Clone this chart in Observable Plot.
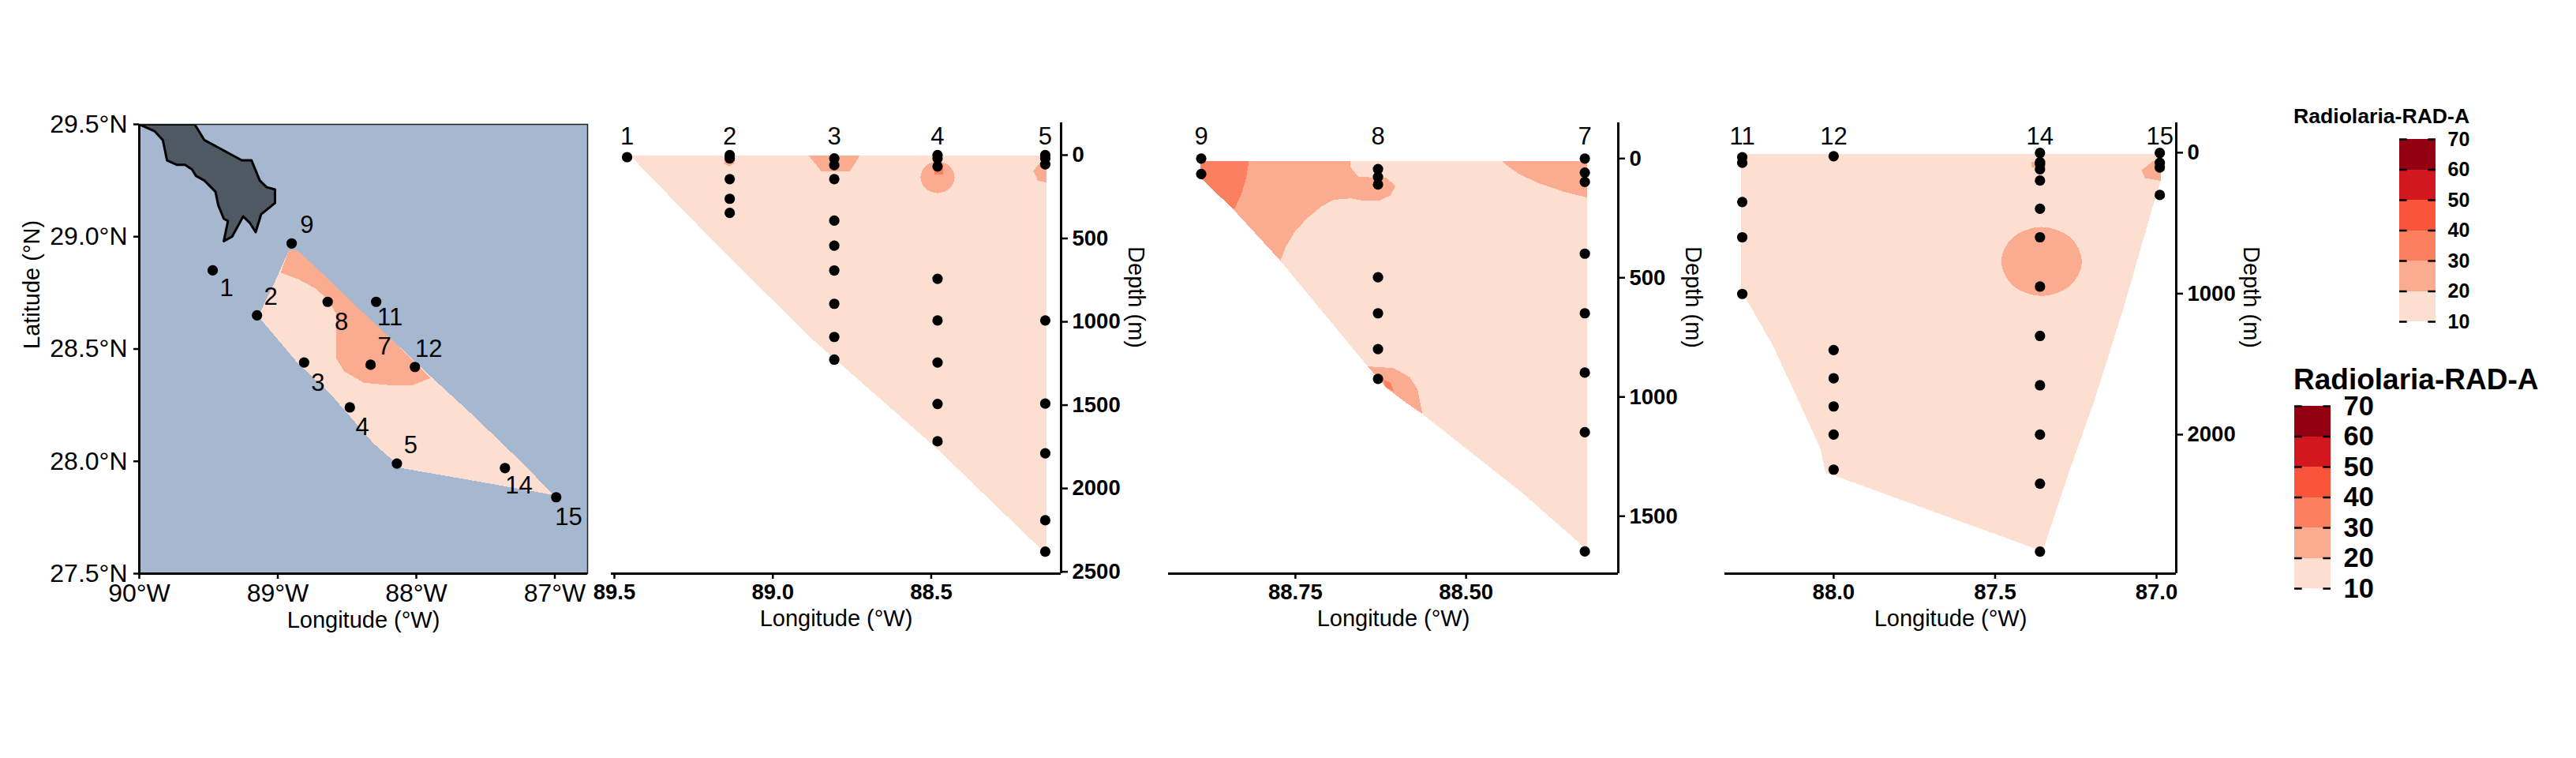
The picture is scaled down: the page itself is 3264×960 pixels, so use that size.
<!DOCTYPE html>
<html>
<head>
<meta charset="utf-8">
<script src="https://cdn.jsdelivr.net/npm/d3@7"></script>
<script src="https://cdn.jsdelivr.net/npm/@observablehq/plot@0.6"></script>
<style>
html,body{margin:0;padding:0;background:#fff;width:3264px;height:960px;overflow:hidden}
#page{position:relative;width:3264px;height:960px;font-family:"Liberation Sans",Arial,sans-serif}
#page svg{position:absolute;overflow:visible;background:transparent}
.ltitle{position:absolute;font-weight:bold;white-space:nowrap;color:#000}
</style>
</head>
<body>
<div id="page"></div>
<script>
// --- palette
const legendBreaks = [10,20,30,40,50,60,70];
const legendColors = ["#fcdfd0","#faab90","#fb8060","#f9553b","#d3171e","#930012"];
const legendTitle = "Radiolaria-RAD-A";
const pale=legendColors[0], salmon=legendColors[1], coral=legendColors[2];

// --- map panel
const stationNames = ["1","2","3","4","5","7","8","9","11","12","14","15"];
const stationLon = [-89.47,-89.15,-88.81,-88.48,-88.14,-88.33,-88.64,-88.90,-88.29,-88.01,-87.36,-86.99];
const stationLat = [28.85,28.65,28.44,28.24,27.99,28.43,28.71,28.97,28.71,28.42,27.97,27.84];
const labelLon = [-89.37,-89.05,-88.71,-88.39,-88.04,-88.23,-88.54,-88.79,-88.19,-87.91,-87.26,-86.90];
const labelLat = [28.77,28.73,28.35,28.15,28.07,28.51,28.62,29.05,28.64,28.50,27.89,27.75];
const landLon = [-90,-89.89,-89.83,-89.80,-89.73,-89.67,-89.62,-89.59,-89.53,-89.45,-89.43,-89.39,-89.36,-89.39,-89.33,-89.25,-89.20,-89.16,-89.12,-89.02,-89.02,-89.08,-89.13,-89.19,-89.26,-89.53,-89.60];
const landLat = [29.5,29.47,29.43,29.34,29.32,29.32,29.30,29.27,29.25,29.20,29.14,29.08,29.07,28.98,29.00,29.09,29.06,29.02,29.10,29.15,29.21,29.22,29.25,29.34,29.34,29.43,29.5];
const mapPaleLon = [-88.92,-88.86,-88.65,-88.45,-88.19,-87.90,-87.60,-87.23,-87.01,-87.46,-88.11,-88.18,-88.31,-88.62,-88.86,-89.12,-89.13,-89.02];
const mapPaleLat = [28.94,28.94,28.82,28.70,28.55,28.38,28.21,27.99,27.85,27.90,27.97,28.01,28.08,28.30,28.44,28.63,28.66,28.80];
const mapSalmonLon = [-88.92,-88.86,-88.65,-88.45,-88.19,-87.90,-88.02,-88.21,-88.38,-88.52,-88.58,-88.58,-88.64,-88.73,-88.85,-88.98];
const mapSalmonLat = [28.94,28.94,28.82,28.70,28.55,28.37,28.34,28.34,28.35,28.40,28.46,28.66,28.72,28.77,28.81,28.84];
const mapLonTicks = [-90,-89,-88,-87];
const mapLatTicks = [27.5,28,28.5,29,29.5];

// --- section 1 (stations 1-5)
const s1Names = ["1","2","3","4","5"];
const s1Lon = [89.46,89.136,88.806,88.48,88.14];
const s1Depths = [[12],[0,20,144,262,347],[20,60,144,393,543,692,892,1091,1227],[0,20,68,742,992,1244,1493,1717],[0,20,55,992,1491,1789,2191,2379]];
const s1OuterLon = [89.45,89.176,88.878,88.479,88.157,88.135,88.135];
const s1OuterDep = [4,539,1100,1766,2358,2369,4];
const s1aLon = [88.886,88.726,88.738,88.756,88.848,88.866];
const s1aDep = [4,4,42,95,95,53];
const s1bLon = [88.48,88.442,88.426,88.442,88.48,88.518,88.534,88.518];
const s1bDep = [38,66,133,200,228,200,133,66];
const s1cLon = [88.135,88.157,88.178,88.163,88.135];
const s1cDep = [42,47,95,154,165];
const s1dLon = [89.152,89.119,89.122,89.138,89.152];
const s1dDep = [4,4,53,68,53];
const s1eLon = [88.49,88.463,88.463,88.49];
const s1eDep = [57,57,116,116];

// --- section 2 (stations 9, 8, 7)
const s2Names = ["9","8","7"];
const s2Lon = [88.888,88.629,88.326];
const s2Depths = [[0,65],[44,77,109,498,649,799,924],[0,59,98,399,649,898,1148,1648]];
const s2OuterLon = [88.889,88.323,88.323,88.417,88.564,88.644,88.772,88.842,88.889];
const s2OuterDep = [9,9,1640,1404,1071,872,429,210,81];
const s2aLon = [88.889,88.669,88.669,88.658,88.617,88.603,88.611,88.628,88.65,88.669,88.694,88.711,88.733,88.75,88.764,88.772,88.842,88.889];
const s2aDep = [9,9,37,77,81,115,155,177,177,167,173,199,251,303,369,429,210,81];
const s2bLon = [88.889,88.818,88.822,88.829,88.839,88.842,88.889];
const s2bDep = [9,9,81,148,210,210,81];
const s2cLon = [88.644,88.606,88.583,88.571,88.564,88.583,88.617];
const s2cDep = [872,879,916,968,1071,1034,961];
const s2dLon = [88.622,88.611,88.606,88.617];
const s2dDep = [928,938,975,961];
const s2eLon = [88.447,88.323,88.323,88.356,88.394,88.422,88.442];
const s2eDep = [9,9,163,140,103,66,25];

// --- section 3 (stations 11, 12, 14, 15)
const s3Names = ["11","12","14","15"];
const s3Lon = [88.283,88.0,87.361,86.99];
const s3Depths = [[32,72,350,600,1002],[25,1400,1600,1800,2000,2248],[2,68,80,118,198,398,600,950,1300,1650,2000,2348,2830],[2,72,105,300]];
const s3OuterLon = [88.288,88.27,86.986,86.986,87.013,87.101,87.194,87.264,87.352,87.364,88.025,88.042,88.188,88.27,88.288];
const s3OuterDep = [35,12,12,192,392,1092,1768,2218,2818,2818,2268,2092,1368,1042,955];
const s3aLon = [87.356,87.268,87.231,87.268,87.356,87.444,87.481,87.444];
const s3aDep = [527,599,772,945,1017,945,772,599];
const s3bLon = [87.387,87.343,87.343,87.387];
const s3bDep = [68,55,105,105];
const s3cLon = [86.986,87.013,87.046,87.036,86.986];
const s3cDep = [55,62,125,180,200];

const FONT = '"Liberation Sans",Arial,sans-serif';
const page = document.getElementById("page");
const pts = (xs,ys)=>xs.map((x,i)=>({x,y:ys[i]}));
const poly = (xs,ys,fill,curve="linear-closed")=>Plot.line(pts(xs,ys),{x:"x",y:"y",fill,stroke:"none",curve,shapeRendering:"crispEdges"});

function put(chart,left,top){chart.style.left=left+"px";chart.style.top=top+"px";page.appendChild(chart);}

function panel({L,R,T,B,xDomain,yDomain,marks,pad=60}){
  const chart = Plot.plot({
    width:R-L+2*pad, height:B-T+2*pad,
    marginLeft:pad,marginRight:pad,marginTop:pad,marginBottom:pad,
    x:{domain:xDomain,axis:null}, y:{domain:yDomain,axis:null},
    style:{fontFamily:FONT,color:"#000"},
    marks
  });
  put(chart,L-pad,T-pad);
}

// MAP
(function(){
  const L=176,R=744,T=157,B=726;
  const xD=[-90,-90+(R-L)/175.5], yD=[27.5,29.5];
  panel({L,R,T,B,xDomain:xD,yDomain:yD,pad:100,marks:[
    Plot.frame({fill:"#a5b8d0",stroke:"none"}),
    poly(mapPaleLon,mapPaleLat,pale),
    poly(mapSalmonLon,mapSalmonLat,salmon),
    Plot.line(pts(landLon,landLat),{x:"x",y:"y",fill:"#4f5964",stroke:"#000",strokeWidth:3,curve:"linear-closed",clip:true}),
    Plot.frame({stroke:"#222",strokeWidth:1.5}),
    Plot.ruleX([xD[0]],{stroke:"#000",strokeWidth:3}),
    Plot.ruleY([yD[0]],{stroke:"#000",strokeWidth:3}),
    Plot.axisX(mapLonTicks,{anchor:"bottom",tickSize:7,tickPadding:6,strokeWidth:2.5,fontSize:32,tickFormat:d=>`${-d}°W`,label:null}),
    Plot.axisY(mapLatTicks,{anchor:"left",tickSize:7,tickPadding:8,strokeWidth:2.5,fontSize:32,tickFormat:d=>`${d.toFixed(1)}°N`,label:null}),
    Plot.dot(pts(stationLon,stationLat),{x:"x",y:"y",r:6.6,fill:"#000"}),
    Plot.text(stationNames,{x:(d,i)=>labelLon[i],y:(d,i)=>labelLat[i],text:d=>d,fontSize:31,fill:"#000"}),
    Plot.text(["Longitude (°W)"],{frameAnchor:"bottom",dy:68,text:d=>d,fontSize:29,fill:"#000"}),
    Plot.text(["Latitude (°N)"],{frameAnchor:"left",dx:-136,rotate:-90,text:d=>d,fontSize:29,fill:"#000"})
  ]});
})();

function section({L,R,xD,yD,xTicks,yTicks,fmt,names,lons,depths,labelDepth,regions}){
  const T=155,B=726;
  const dots=[];lons.forEach((x,i)=>depths[i].forEach(y=>dots.push({x,y})));
  panel({L,R,T,B,xDomain:xD,yDomain:yD,pad:110,marks:[
    ...regions,
    Plot.ruleX([xD[1]],{stroke:"#000",strokeWidth:3}),
    Plot.ruleY([yD[0]],{stroke:"#000",strokeWidth:3}),
    Plot.axisX(xTicks,{anchor:"bottom",tickSize:7,tickPadding:6,strokeWidth:2.5,fontSize:27.5,fontWeight:"bold",tickFormat:d=>d.toFixed(fmt),label:null}),
    Plot.axisY(yTicks,{anchor:"right",tickSize:8,tickPadding:6,strokeWidth:2.5,fontSize:27.5,fontWeight:"bold",label:null,tickFormat:d=>String(d)}),
    Plot.dot(dots,{x:"x",y:"y",r:6.6,fill:"#000"}),
    Plot.text(names,{x:(d,i)=>lons[i],y:()=>labelDepth,text:d=>d,fontSize:31,fill:"#000"}),
    Plot.text(["Longitude (°W)"],{frameAnchor:"bottom",dy:66,text:d=>d,fontSize:29,fill:"#000"}),
    Plot.text(["Depth (m)"],{frameAnchor:"right",dx:95,rotate:90,text:d=>d,fontSize:29,fill:"#000"})
  ]});
}

section({L:774,R:1344,xD:[89.51,88.09],yD:[2511,-194],xTicks:[89.5,89,88.5],yTicks:[0,500,1000,1500,2000,2500],fmt:1,
  names:s1Names,lons:s1Lon,depths:s1Depths,labelDepth:-110,
  regions:[poly(s1OuterLon,s1OuterDep,pale),poly(s1aLon,s1aDep,salmon),poly(s1bLon,s1bDep,salmon,"cardinal-closed"),poly(s1cLon,s1cDep,salmon),poly(s1dLon,s1dDep,salmon),poly(s1eLon,s1eDep,coral)]});

section({L:1480,R:2050,xD:[88.936,88.277],yD:[1741,-150],xTicks:[88.75,88.5],yTicks:[0,500,1000,1500],fmt:2,
  names:s2Names,lons:s2Lon,depths:s2Depths,labelDepth:-92,
  regions:[poly(s2OuterLon,s2OuterDep,pale),poly(s2aLon,s2aDep,salmon),poly(s2bLon,s2bDep,coral),poly(s2cLon,s2cDep,salmon),poly(s2dLon,s2dDep,coral),poly(s2eLon,s2eDep,salmon)]});

section({L:2185,R:2757,xD:[88.337,86.939],yD:[2986,-212],xTicks:[88,87.5,87],yTicks:[0,1000,2000],fmt:1,
  names:s3Names,lons:s3Lon,depths:s3Depths,labelDepth:-112,
  regions:[poly(s3OuterLon,s3OuterDep,pale),poly(s3aLon,s3aDep,salmon,"cardinal-closed"),poly(s3bLon,s3bDep,salmon),poly(s3cLon,s3cDep,salmon)]});

function legend({L,R,T,B,fontSize}){
  const bins=legendColors.map((c,i)=>({lo:legendBreaks[i],hi:legendBreaks[i+1],c}));
  const pad=60;
  const chart=Plot.plot({
    width:R-L+2*pad,height:B-T+2*pad,marginLeft:pad,marginRight:pad,marginTop:pad,marginBottom:pad,
    x:{domain:[0,1],axis:null},y:{domain:[10,70],axis:null},
    style:{fontFamily:FONT,color:"#000"},
    marks:[
      Plot.rectY(bins,{x1:0,x2:1,y1:"lo",y2:"hi",fill:"c",shapeRendering:"crispEdges"}),
      Plot.ruleY(legendBreaks,{x1:0,x2:0.21,stroke:"#000",strokeWidth:2.5}),
      Plot.ruleY(legendBreaks,{x1:0.79,x2:1,stroke:"#000",strokeWidth:2.5}),
      Plot.axisY(legendBreaks,{anchor:"right",tickSize:0,tickPadding:fontSize>30?16:15,fontSize,fontWeight:"bold",label:null,tickFormat:String})
    ]
  });
  put(chart,L-pad,T-pad);
}
function ltitle(x,y,size){
  const d=document.createElement("div");d.className="ltitle";d.textContent=legendTitle;
  d.style.left=x+"px";d.style.top=y+"px";d.style.fontSize=size+"px";d.style.lineHeight="1";
  page.appendChild(d);
}
legend({L:3040,R:3086,T:176,B:407,fontSize:25});
ltitle(2906,134,26.6);
legend({L:2907,R:2953,T:514,B:745,fontSize:34.5});
ltitle(2906,462,37);
</script>
</body>
</html>
